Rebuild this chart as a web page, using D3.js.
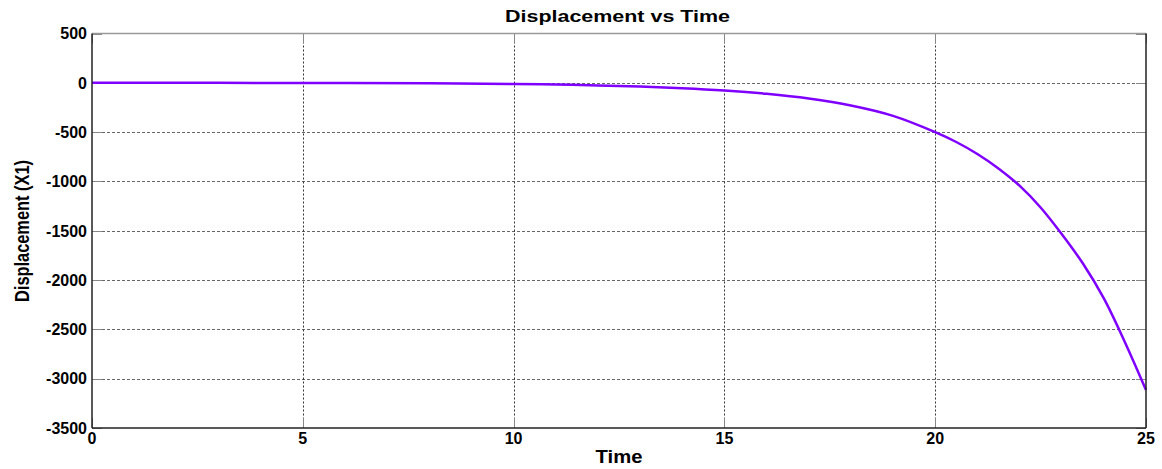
<!DOCTYPE html>
<html>
<head>
<meta charset="utf-8">
<script src="https://cdn.jsdelivr.net/npm/d3@7"></script>
<style>
  body { margin: 0; background: #fff; }
  text { font-family: "Liberation Sans", Arial, sans-serif; fill: #000; }
</style>
</head>
<body>
<div id="chart"></div>
<script>

// values
var timeVals = [0, 2, 4, 6, 8, 10, 11, 12, 13, 14, 15, 16, 17, 18, 19, 20, 20.5, 21, 21.5, 22, 22.5, 23, 23.5, 24, 24.5, 25];
var dispVals = [0, 0, -1, -2, -5, -12, -18, -26, -37, -54, -78, -112, -160, -230, -335, -500, -600, -722, -868, -1043, -1264, -1533, -1830, -2186, -2630, -3115];
var xTicks = [0, 5, 10, 15, 20, 25];
var yTicks = [500, 0, -500, -1000, -1500, -2000, -2500, -3000, -3500];

var W = 1162, H = 469;
var plotL = 92, plotR = 1146, plotT = 33.5, plotB = 428;

var svg = d3.select("#chart")
	.append("svg")
	.attr("width", W)
	.attr("height", H);

var x = d3.scaleLinear().domain([0, 25]).range([plotL, plotR]);
var y = d3.scaleLinear().domain([-3500, 500]).range([plotB, plotT]);

//grid - horizontal dashed, vertical dotted
svg.append("g")
	.selectAll("line")
	.data(yTicks.slice(1, -1))
	.enter()
	.append("line")
	.attr("x1", plotL).attr("x2", plotR)
	.attr("y1", d => Math.round(y(d)) + 0.5)
	.attr("y2", d => Math.round(y(d)) + 0.5)
	.attr("stroke", "#666")
	.attr("stroke-dasharray", "3,2");

svg.append("g")
	.selectAll("line")
	.data(xTicks.slice(1, -1))
	.enter()
	.append("line")
	.attr("y1", plotT).attr("y2", plotB)
	.attr("x1", d => Math.round(x(d)) + 0.5)
	.attr("x2", d => Math.round(x(d)) + 0.5)
	.attr("stroke", "#333")
	.attr("stroke-dasharray", "2,2");

//inner ticks on all four sides
var tickLen = 10;
var ticks = svg.append("g").attr("stroke", "#888");
yTicks.forEach(function(d) {
	var yy = Math.round(y(d)) + 0.5;
	ticks.append("line").attr("x1", plotL).attr("x2", plotL + tickLen).attr("y1", yy).attr("y2", yy);
	ticks.append("line").attr("x1", plotR - tickLen).attr("x2", plotR).attr("y1", yy).attr("y2", yy);
});
xTicks.forEach(function(d) {
	var xx = Math.round(x(d)) + 0.5;
	ticks.append("line").attr("x1", xx).attr("x2", xx).attr("y1", plotT).attr("y2", plotT + tickLen);
	ticks.append("line").attr("x1", xx).attr("x2", xx).attr("y1", plotB - tickLen).attr("y2", plotB);
});

//the curve
var line = d3.line()
	.curve(d3.curveCatmullRom)
	.x((d, i) => x(timeVals[i]))
	.y(d => y(d));

svg.append("path")
	.datum(dispVals)
	.attr("d", line)
	.attr("fill", "none")
	.attr("stroke", "#8000ff")
	.attr("stroke-width", 2.5);

//box
svg.append("line").attr("x1", plotL).attr("x2", plotR).attr("y1", plotT).attr("y2", plotT)
	.attr("stroke", "#999").attr("stroke-width", 1.5);
svg.append("line").attr("x1", plotL).attr("x2", plotR).attr("y1", plotB).attr("y2", plotB)
	.attr("stroke", "#222").attr("stroke-width", 1.5);
svg.append("line").attr("x1", plotL).attr("x2", plotL).attr("y1", plotT).attr("y2", plotB)
	.attr("stroke", "#222").attr("stroke-width", 1.5);
svg.append("line").attr("x1", plotR).attr("x2", plotR).attr("y1", plotT).attr("y2", plotB)
	.attr("stroke", "#222").attr("stroke-width", 1.5);

//tick labels
svg.append("g")
	.selectAll("text")
	.data(yTicks)
	.enter()
	.append("text")
	.attr("x", plotL - 5)
	.attr("y", d => y(d))
	.attr("dy", "0.36em")
	.attr("text-anchor", "end")
	.attr("font-size", "16px")
	.attr("font-weight", "bold")
	.text(d => d);

svg.append("g")
	.selectAll("text")
	.data(xTicks)
	.enter()
	.append("text")
	.attr("x", d => x(d))
	.attr("y", 444)
	.attr("text-anchor", "middle")
	.attr("font-size", "16px")
	.attr("font-weight", "bold")
	.text(d => d);

//titles
svg.append("text")
	.attr("x", 617.5)
	.attr("y", 22)
	.attr("text-anchor", "middle")
	.attr("font-size", "16px")
	.attr("font-weight", "bold")
	.attr("textLength", 225)
	.attr("lengthAdjust", "spacingAndGlyphs")
	.text("Displacement vs Time");

svg.append("text")
	.attr("x", 619)
	.attr("y", 463)
	.attr("text-anchor", "middle")
	.attr("font-size", "18px")
	.attr("font-weight", "bold")
	.attr("textLength", 47)
	.attr("lengthAdjust", "spacingAndGlyphs")
	.text("Time");

svg.append("text")
	.attr("transform", "translate(29,231) rotate(-90)")
	.attr("text-anchor", "middle")
	.attr("font-size", "20px")
	.attr("font-weight", "bold")
	.attr("textLength", 142)
	.attr("lengthAdjust", "spacingAndGlyphs")
	.text("Displacement (X1)");

</script>
</body>
</html>
